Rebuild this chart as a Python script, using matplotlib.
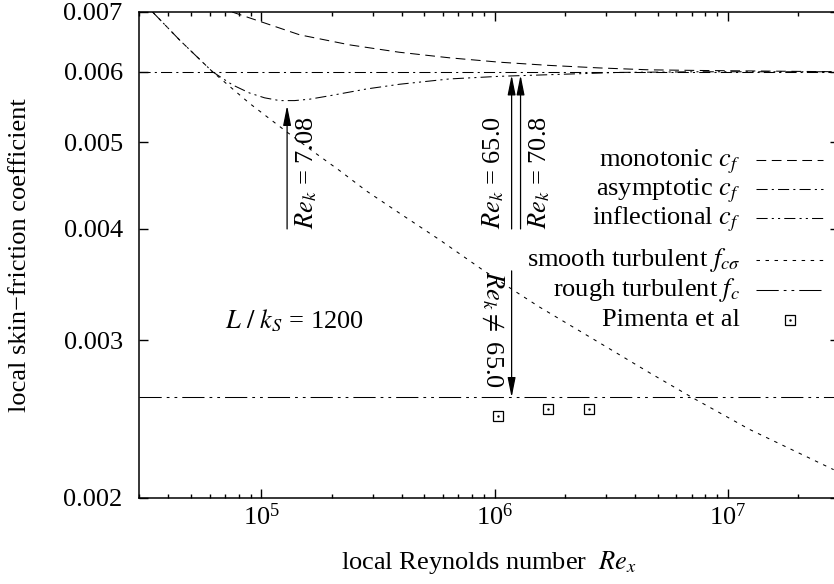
import numpy as np
import matplotlib
matplotlib.use('Agg')
import matplotlib.pyplot as plt
from matplotlib.ticker import FixedLocator, FuncFormatter, LogLocator, NullLocator
from matplotlib.lines import Line2D

plt.rcParams['font.family'] = 'Liberation Serif'
plt.rcParams['mathtext.fontset'] = 'stix'
plt.rcParams['font.size'] = 19
plt.rcParams['lines.scale_dashes'] = False

# skin-friction curves, local Reynolds number vs c_f
re_mono = [7.5e4, 1.46e5, 2.4e5, 3.9e5, 6.4e5, 1.05e6, 1.7e6, 2.8e6, 4.6e6, 7.6e6, 3e7]
cf_mono = [0.0070, 0.00660, 0.00643, 0.00631, 0.00622, 0.00615, 0.00610, 0.00606, 0.00603, 0.00602, 0.00600]

re_asym = [3e4, 3e7]
cf_asym = [0.006, 0.006]

re_infl = [3.42e4, 4.47e4, 6.18e4, 7.53e4, 8.91e4, 1.033e5, 1.198e5, 1.389e5, 1.61e5, 1.963e5,
           2.83e5, 3.92e5, 6.41e5, 1.05e6, 1.9e6, 3.43e6, 7.56e6, 3e7]
cf_infl = [0.0070, 0.00651, 0.0060, 0.00580, 0.00568, 0.00561, 0.00557, 0.00557, 0.00559, 0.00564,
           0.00574, 0.00581, 0.00589, 0.00593, 0.00596, 0.00599, 0.00600, 0.00600]

re_smooth = [3.42e4, 4.47e4, 6.18e4, 8.91e4, 1.283e5, 1.659e5, 2.166e5, 2.83e5, 3.84e5, 5.81e5,
             8.88e5, 1.195e6, 1.559e6, 3.02e6, 4.62e6, 7.06e6, 1.239e7, 2.84e7]
cf_smooth = [0.0070, 0.00651, 0.0060, 0.00553, 0.00514, 0.00489, 0.00465, 0.00441, 0.00418, 0.00389,
             0.00360, 0.00342, 0.00327, 0.00295, 0.00276, 0.002588, 0.002385, 0.00215]

re_rough = [3e4, 3e7]
cf_rough = [0.00259, 0.00259]

re_pim = [1.03e6, 1.70e6, 2.55e6]
cf_pim = [0.002466, 0.002513, 0.002513]

yticks = [0.002, 0.003, 0.004, 0.005, 0.006, 0.007]

labels = [r'monotonic $c_f$', r'asymptotic $c_f$', r'inflectional $c_f$',
          r'smooth turbulent $f_{c\sigma}$', r'rough turbulent $f_c$', 'Pimenta et al']

# arrows: (Re, cf start, cf end)
arr_708 = (1.29e5, 0.0040, 0.0055)
arr_650 = (1.183e6, 0.0040, 0.00595)
arr_708b = (1.292e6, 0.0040, 0.00595)
arr_ne = (1.183e6, 0.00359, 0.00259)

W, H = 834, 584
fig = plt.figure(figsize=(W / 100, H / 100), dpi=100)
ax = fig.add_axes([139.3 / W, 86.3 / H, 699.9 / W, 485.7 / H])
ax.set_xscale('log')
ax.set_yscale('log')
ax.set_xlim(3e4, 3e7)
ax.set_ylim(0.002, 0.007)

lw = 0.75
styles = [(7, 4), (8, 3, 1.5, 3), (8, 3, 1.5, 3, 1.5, 3), (2.5, 4), (16, 3.6, 2, 3.6, 2, 3.6)]
ax.plot(re_mono, cf_mono, color='black', lw=lw, dashes=styles[0])
ax.plot(re_asym, cf_asym, color='black', lw=lw, dashes=styles[1])
ax.plot(re_infl, cf_infl, color='black', lw=lw, dashes=styles[2])
ax.plot(re_smooth, cf_smooth, color='black', lw=lw, dashes=styles[3])
ax.plot(re_rough, cf_rough, color='black', lw=lw, dashes=styles[4])
ax.plot(re_pim, cf_pim, ls='none', marker='s', ms=7, mfc='none', mec='black', mew=0.9)
ax.plot(re_pim, cf_pim, ls='none', marker='.', ms=1.5, color='black')

ax.yaxis.set_major_locator(FixedLocator(yticks))
ax.yaxis.set_major_formatter(FuncFormatter(lambda v, p: '%.3f' % v))
ax.yaxis.set_minor_locator(NullLocator())
ax.xaxis.set_major_locator(LogLocator(base=10))
ax.xaxis.set_minor_locator(LogLocator(base=10, subs=np.arange(2, 10)))

ax.tick_params(which='both', direction='in', top=True, right=True, width=1.0)
ax.tick_params(which='major', length=6.5)
ax.tick_params(which='minor', length=3.2)
ax.tick_params(axis='y', pad=12)
ax.tick_params(axis='x', pad=4)
for s in ax.spines.values():
    s.set_linewidth(1.1)

ax.set_xlabel(r'local Reynolds number  $Re_x$')
ax.set_ylabel('local skin\u2212friction coefficient')
ax.xaxis.set_label_coords(0.5, -0.105)
ax.yaxis.set_label_coords(-0.155, 0.5)

ap = dict(arrowstyle='-|>,head_length=0.6,head_width=0.12', color='black', lw=0.9,
          shrinkA=0, shrinkB=0, mutation_scale=20)
for x, y0, y1 in [arr_708, arr_650, arr_708b, arr_ne]:
    ax.annotate('', xy=(x, y1), xytext=(x, y0), arrowprops=ap)

ax.text(1.56e5, 0.0040, r'$Re_k$ = 7.08', rotation=90, ha='center', va='bottom')
ax.text(9.9e5, 0.0040, r'$Re_k$ = 65.0', rotation=90, ha='center', va='bottom')
ax.text(1.56e6, 0.0040, r'$Re_k$ = 70.8', rotation=90, ha='center', va='bottom')
ax.text(9.84e5, 0.00359, r'$Re_k \neq$ 65.0', rotation=-90, ha='center', va='top')
ax.text(7.0e4, 0.00316, r'$L\ /\ k_S$ = 1200', ha='left', va='center')

# key: text right-aligned, sample to the right (rows in pixels from the top)
rows = [160, 189, 218, 260, 290, 320]
for i, (lab, yr) in enumerate(zip(labels, rows)):
    yf = 1 - yr / H
    fig.text(740 / W, 1 - (yr + 6) / H, lab, ha='right', va='baseline')
    if i < 5:
        fig.add_artist(Line2D([756 / W, 823 / W], [yf, yf], color='black', lw=lw,
                              dashes=styles[i], transform=fig.transFigure))
    else:
        fig.add_artist(Line2D([790 / W], [yf], ls='none', marker='s', ms=7, mfc='none',
                              mec='black', mew=0.9, transform=fig.transFigure))
        fig.add_artist(Line2D([790 / W], [yf], ls='none', marker='.', ms=1.5,
                              color='black', transform=fig.transFigure))

fig.savefig('out.png', dpi=100)
